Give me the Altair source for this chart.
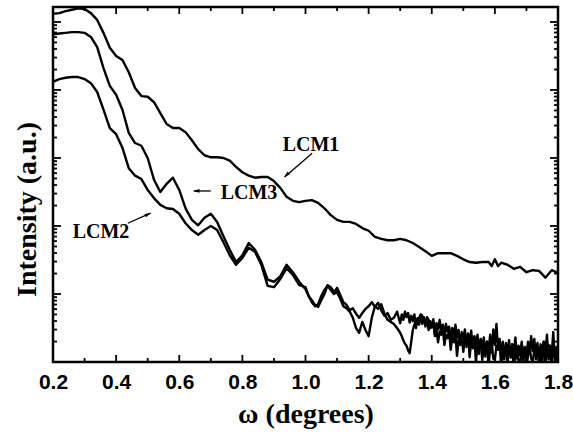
import altair as alt
import pandas as pd

# ---------------- data ----------------
# omega in degrees, intensity stored as log10(a.u.)
omega_lcm1 = [0.20, 0.22, 0.24, 0.26, 0.28, 0.30, 0.32, 0.34, 0.36, 0.38,
              0.40, 0.42, 0.44, 0.46, 0.48, 0.50, 0.52, 0.54, 0.56, 0.58,
              0.60, 0.62, 0.64, 0.66, 0.68, 0.70, 0.72, 0.74, 0.76, 0.78,
              0.80, 0.82, 0.84, 0.86, 0.88, 0.90, 0.92, 0.94, 0.96, 0.98,
              1.00, 1.02, 1.04, 1.06, 1.08, 1.10, 1.12, 1.14, 1.16, 1.18,
              1.20, 1.22, 1.24, 1.26, 1.28, 1.30, 1.32, 1.34, 1.36, 1.38,
              1.40, 1.42, 1.44, 1.46, 1.48, 1.50, 1.52, 1.54, 1.56, 1.58,
              1.59, 1.60, 1.61, 1.62, 1.64, 1.66, 1.68, 1.70, 1.72, 1.74,
              1.76, 1.78, 1.80]
log_lcm1 = [5.12, 5.13, 5.16, 5.18, 5.20, 5.19, 5.13, 5.03, 4.84, 4.62,
            4.50, 4.44, 4.26, 4.03, 3.91, 3.90, 3.82, 3.66, 3.50, 3.44,
            3.44, 3.38, 3.26, 3.13, 3.04, 3.01, 3.01, 3.00, 2.96, 2.87,
            2.79, 2.74, 2.71, 2.72, 2.72, 2.66, 2.56, 2.43, 2.37, 2.35,
            2.37, 2.38, 2.34, 2.26, 2.16, 2.09, 2.06, 2.06, 2.03, 1.97,
            1.93, 1.84, 1.81, 1.79, 1.79, 1.81, 1.79, 1.75, 1.69, 1.63,
            1.56, 1.60, 1.60, 1.60, 1.56, 1.51, 1.47, 1.46, 1.47, 1.47,
            1.41, 1.51, 1.41, 1.46, 1.43, 1.37, 1.40, 1.32, 1.35, 1.34,
            1.24, 1.35, 1.31]

# shared sampling of the two lower curves
omega_low = [0.20, 0.22, 0.24, 0.26, 0.28, 0.30, 0.32, 0.34, 0.36, 0.38,
             0.40, 0.42, 0.44, 0.46, 0.48, 0.50, 0.52, 0.54, 0.56, 0.58,
             0.60, 0.62, 0.64, 0.66, 0.68, 0.70, 0.72, 0.74, 0.76, 0.78,
             0.80, 0.82, 0.84, 0.86, 0.88, 0.90, 0.92, 0.94, 0.96, 0.98,
             1.00, 1.01, 1.02, 1.03, 1.04, 1.05, 1.06, 1.07, 1.08, 1.09,
             1.10, 1.11, 1.12, 1.13, 1.14, 1.15, 1.16, 1.17, 1.18, 1.19,
             1.20, 1.21, 1.22, 1.23, 1.24, 1.25, 1.26, 1.27, 1.28, 1.29,
             1.300, 1.305, 1.310, 1.315, 1.320, 1.325, 1.330, 1.335, 1.340, 1.345,
             1.350, 1.355, 1.360, 1.365, 1.370, 1.375, 1.380, 1.385, 1.390, 1.395,
             1.400, 1.405, 1.410, 1.415, 1.420, 1.425, 1.430, 1.435, 1.440, 1.445,
             1.450, 1.455, 1.460, 1.465, 1.470, 1.475, 1.480, 1.485, 1.490, 1.495,
             1.500, 1.505, 1.510, 1.515, 1.520, 1.525, 1.530, 1.535, 1.540, 1.545,
             1.550, 1.555, 1.560, 1.565, 1.570, 1.575, 1.580, 1.585, 1.590, 1.595,
             1.600, 1.605, 1.610, 1.615, 1.620, 1.625, 1.630, 1.635, 1.640, 1.645,
             1.650, 1.655, 1.660, 1.665, 1.670, 1.675, 1.680, 1.685, 1.690, 1.695,
             1.700, 1.705, 1.710, 1.715, 1.720, 1.725, 1.730, 1.735, 1.740, 1.745,
             1.750, 1.755, 1.760, 1.765, 1.770, 1.775, 1.780, 1.785, 1.790, 1.795,
             1.800]
log_lcm3 = [4.82, 4.83, 4.84, 4.85, 4.85, 4.84, 4.78, 4.63, 4.32, 4.06,
            3.93, 3.71, 3.37, 3.22, 3.18, 3.00, 2.68, 2.50, 2.62, 2.71,
            2.53, 2.26, 2.09, 2.01, 2.12, 2.18, 2.06, 1.85, 1.65, 1.47,
            1.57, 1.75, 1.65, 1.47, 1.21, 1.18, 1.26, 1.43, 1.32, 1.18,
            1.07, 0.97, 0.91, 0.84, 0.81, 0.91, 1.00, 1.13, 1.10, 1.03,
            1.09, 0.99, 0.88, 0.84, 0.76, 0.79, 0.71, 0.65, 0.72, 0.78,
            0.82, 0.88, 0.81, 0.87, 0.76, 0.68, 0.72, 0.62, 0.65, 0.74,
            0.57, 0.70, 0.62, 0.74, 0.66, 0.72, 0.58, 0.68, 0.60, 0.70,
            0.50, 0.64, 0.55, 0.69, 0.56, 0.66, 0.52, 0.64, 0.47, 0.60,
            0.52, 0.63, 0.41, 0.57, 0.48, 0.62, 0.45, 0.55, 0.38, 0.56,
            0.44, 0.52, 0.33, 0.50, 0.40, 0.55, 0.36, 0.47, 0.25, 0.44,
            0.34, 0.48, 0.22, 0.42, 0.28, 0.46, 0.20, 0.38, 0.26, 0.40,
            0.12, 0.33, 0.22, 0.36, 0.08, 0.30, 0.16, 0.40, 0.14, 0.48,
            0.25, 0.56, 0.18, 0.34, 0.10, 0.30, 0.04, 0.28, 0.12, 0.32,
            0.06, 0.26, 0.14, 0.36, 0.05, 0.24, 0.10, 0.30, 0.02, 0.22,
            0.08, 0.30, 0.12, 0.38, 0.16, 0.34, 0.04, 0.22, 0.10, 0.26,
            -0.03, 0.30, 0.12, 0.40, 0.04, 0.24, 0.10, 0.44, 0.02, 0.22,
            0.16]
log_lcm2 = [4.12, 4.16, 4.18, 4.19, 4.19, 4.16, 4.10, 3.97, 3.71, 3.44,
            3.35, 3.15, 2.85, 2.74, 2.69, 2.53, 2.41, 2.31, 2.26, 2.25,
            2.18, 2.04, 1.94, 1.87, 1.94, 2.00, 1.94, 1.76, 1.57, 1.43,
            1.53, 1.68, 1.62, 1.43, 1.12, 1.10, 1.22, 1.38, 1.28, 1.13,
            1.10, 0.97, 0.88, 0.82, 0.85, 0.97, 1.06, 1.12, 1.06, 1.00,
            1.03, 0.93, 0.82, 0.79, 0.74, 0.65, 0.50, 0.43, 0.59, 0.47,
            0.38, 0.65, 0.82, 0.78, 0.85, 0.71, 0.62, 0.59, 0.56, 0.50,
            0.43, 0.38, 0.32, 0.27, 0.24, 0.17, 0.13, 0.30, 0.47, 0.55,
            0.59, 0.64, 0.65, 0.70, 0.68, 0.60, 0.59, 0.66, 0.62, 0.50,
            0.51, 0.58, 0.38, 0.47, 0.29, 0.45, 0.40, 0.50, 0.25, 0.40,
            0.35, 0.46, 0.18, 0.38, 0.29, 0.42, 0.09, 0.33, 0.25, 0.38,
            0.15, 0.35, 0.28, 0.40, 0.07, 0.30, 0.21, 0.36, 0.00, 0.26,
            0.20, 0.34, 0.03, 0.22, 0.15, 0.30, -0.06, 0.20, 0.28, 0.05,
            0.03, 0.24, 0.18, 0.30, -0.09, 0.12, 0.15, 0.24, 0.00, 0.20,
            0.10, 0.26, -0.12, 0.14, 0.18, 0.02, -0.03, 0.16, 0.07, 0.22,
            -0.09, 0.10, 0.21, 0.05, 0.00, 0.18, 0.10, 0.28, -0.12, 0.08,
            0.18, 0.30, -0.04, 0.14, 0.25, 0.06, 0.00, 0.20, 0.06, 0.16,
            -0.06]
assert len(omega_lcm1) == len(log_lcm1)
assert len(omega_low) == len(log_lcm3) == len(log_lcm2)

# annotations
label_text = ["LCM1", "LCM3", "LCM2"]
label_omega = [1.0175, 0.821, 0.352]
label_log = [3.19, 2.485, 1.91]

arrow_name = ["LCM1", "LCM1", "LCM3", "LCM3", "LCM2", "LCM2"]
arrow_omega = [1.021, 0.934, 0.700, 0.646, 0.437, 0.509]
arrow_log = [3.07, 2.72, 2.515, 2.515, 2.04, 2.19]
head_omega = [0.932, 0.644, 0.5105]
head_log = [2.72, 2.515, 2.19]
head_angle = [229, 270, 66]

# axis ticks
x_major = [0.2, 0.4, 0.6, 0.8, 1.0, 1.2, 1.4, 1.6, 1.8]
x_minor = [0.3, 0.5, 0.7, 0.9, 1.1, 1.3, 1.5, 1.7]
y_major = [1, 10, 100, 1000, 10000, 100000]
y_minor = [m * d for d in [1, 10, 100, 1000, 10000] for m in [2, 3, 4, 5, 6, 7, 8, 9]]

# ---------------- tables ----------------
rows = []
for o, l in zip(omega_lcm1, log_lcm1):
    rows.append({"omega": o, "intensity": 10 ** l, "series": "LCM1"})
for o, l in zip(omega_low, log_lcm3):
    rows.append({"omega": o, "intensity": 10 ** l, "series": "LCM3"})
for o, l in zip(omega_low, log_lcm2):
    rows.append({"omega": o, "intensity": 10 ** l, "series": "LCM2"})
curves = pd.DataFrame(rows)

labels_df = pd.DataFrame({"omega": label_omega,
                          "intensity": [10 ** l for l in label_log],
                          "text": label_text})
arrows_df = pd.DataFrame({"omega": arrow_omega,
                          "intensity": [10 ** l for l in arrow_log],
                          "name": arrow_name})
heads_df = pd.DataFrame({"omega": head_omega,
                         "intensity": [10 ** l for l in head_log],
                         "ang": head_angle})
xmaj_df = pd.DataFrame({"omega": x_major})
xmin_df = pd.DataFrame({"omega": x_minor})
ymaj_df = pd.DataFrame({"intensity": y_major})
ymin_df = pd.DataFrame({"intensity": y_minor})

W, H = 505, 355
x_scale = alt.Scale(domain=[0.2, 1.8], nice=False, zero=False)
y_scale = alt.Scale(type="log", domain=[1, 166000], nice=False)

x_axis = alt.Axis(values=x_major, format=".1f", labelFont="Liberation Sans",
                  labelFontSize=21, labelFontWeight="bold", labelColor="black",
                  labelPadding=26, labelBaseline="alphabetic", labelFlush=False,
                  ticks=False, tickSize=0, domain=False, grid=False,
                  title="ω (degrees)", titleFont="Liberation Serif", titleFontSize=28,
                  titleFontWeight="bold", titleColor="black",
                  titleBaseline="alphabetic", titleY=60)
y_axis = alt.Axis(labels=False, ticks=False, tickSize=0, domain=False, grid=False,
                  title="Intensity (a.u.)", titleFont="Liberation Serif",
                  titleFontSize=28, titleFontWeight="bold", titleColor="black",
                  titleAngle=270, titleX=-18, titleY=202,
                  titleBaseline="alphabetic", titleAlign="center")

X = alt.X("omega:Q", scale=x_scale, axis=x_axis, title="ω (degrees)")
Y = alt.Y("intensity:Q", scale=y_scale, axis=y_axis, title="Intensity (a.u.)")

lines = alt.Chart(curves).mark_line(color="black", strokeWidth=2.4, clip=True,
                                    strokeJoin="round").encode(
    x=X, y=Y, detail="series:N",
)

def xticks(df, length):
    bottom = alt.Chart(df).mark_rule(color="black", strokeWidth=1.8).encode(
        x=X, y=alt.value(H), y2=alt.value(H - length))
    top = alt.Chart(df).mark_rule(color="black", strokeWidth=1.8).encode(
        x=X, y=alt.value(0), y2=alt.value(length))
    return [bottom, top]

def yticks(df, length):
    left = alt.Chart(df).mark_rule(color="black", strokeWidth=1.8).encode(
        y=Y, x=alt.value(0), x2=alt.value(length))
    right = alt.Chart(df).mark_rule(color="black", strokeWidth=1.8).encode(
        y=Y, x=alt.value(W), x2=alt.value(W - length))
    return [left, right]

tick_layers = xticks(xmaj_df, 7) + xticks(xmin_df, 4) + yticks(ymaj_df, 8) + yticks(ymin_df, 4)

texts = alt.Chart(labels_df).mark_text(font="Liberation Serif", fontSize=20,
                                       fontWeight="bold", color="black").encode(
    x=X, y=Y, text="text:N",
)
shafts = alt.Chart(arrows_df).mark_line(color="black", strokeWidth=1.3).encode(
    x=X, y=Y, detail="name:N",
)
heads = alt.Chart(heads_df).mark_point(shape="M0,0L0.55,1.9L-0.55,1.9Z", filled=True,
                                       size=45, color="black", opacity=1).encode(
    x=X, y=Y, angle=alt.Angle("ang:Q", scale=None),
)

chart = alt.layer(lines, *tick_layers, shafts, heads, texts).properties(
    width=W, height=H,
    padding={"left": 53, "top": 7, "right": 15, "bottom": 80},
    autosize=alt.AutoSizeParams(type="none"),
    background="white",
).configure_view(stroke="black", strokeWidth=2.5)

chart.save("out.html", embed_options={"renderer": "svg", "actions": False})
